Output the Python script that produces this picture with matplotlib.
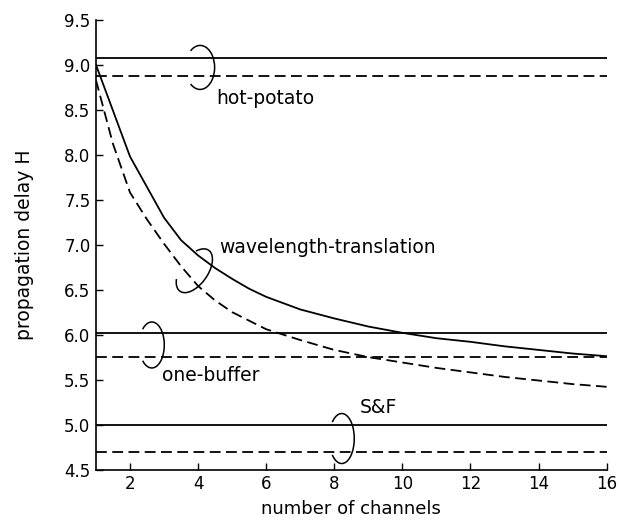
import numpy as np
import matplotlib
matplotlib.use("Agg")
import matplotlib.pyplot as plt
from matplotlib.patches import Arc
from matplotlib import transforms

# propagation delay H for each routing scheme (solid / dashed variants)
hot_potato_solid = 9.07
hot_potato_dashed = 8.87
one_buffer_solid = 6.02
one_buffer_dashed = 5.75
sf_solid = 5.00
sf_dashed = 4.69

# wavelength-translation curves versus number of channels
wl_solid_x = [1, 2, 3, 3.5, 4, 4.5, 5, 5.5, 6, 7, 8, 9, 10, 11, 12, 13, 14, 15, 16]
wl_solid_y = [9.00, 7.98, 7.30, 7.05, 6.88, 6.74, 6.62, 6.51, 6.42, 6.28, 6.18,
              6.09, 6.02, 5.96, 5.92, 5.87, 5.83, 5.79, 5.76]
wl_dashed_x = [1, 1.5, 2, 2.5, 3, 3.5, 4, 4.5, 5, 6, 7, 8, 9, 10, 11, 12, 13, 14, 15, 16]
wl_dashed_y = [8.83, 8.12, 7.58, 7.28, 7.01, 6.76, 6.54, 6.38, 6.25, 6.06, 5.94,
               5.83, 5.75, 5.69, 5.63, 5.58, 5.53, 5.49, 5.45, 5.42]

x_range = [1, 16]
x_ticks = [2, 4, 6, 8, 10, 12, 14, 16]
y_ticks = [4.5, 5.0, 5.5, 6.0, 6.5, 7.0, 7.5, 8.0, 8.5, 9.0, 9.5]

plt.rcParams['font.family'] = ['DejaVu Sans']

fig = plt.figure(figsize=(6.19, 5.2), dpi=100)
ax = fig.add_axes([0.155, 0.097, 0.825, 0.865])

lw = 1.3
dash = (6, 3)

# constant-delay schemes
for ys, yd in [(hot_potato_solid, hot_potato_dashed),
               (one_buffer_solid, one_buffer_dashed),
               (sf_solid, sf_dashed)]:
    ax.plot(x_range, [ys, ys], color='black', lw=lw)
    ax.plot(x_range, [yd, yd], color='black', lw=lw, dashes=dash)

# wavelength-translation
ax.plot(wl_solid_x, wl_solid_y, color='black', lw=lw)
ax.plot(wl_dashed_x, wl_dashed_y, color='black', lw=lw, dashes=dash)


def bracket(x, y, w_px, h_px, angle=0.0):
    """Draw a ')'-shaped brace centred at data point (x, y), sized in pixels."""
    trans = (transforms.Affine2D().scale(fig.dpi / 100.0)
             + transforms.ScaledTranslation(x, y, ax.transData))
    arc = Arc((0, 0), w_px, h_px, angle=angle, theta1=-120, theta2=120,
              color='black', lw=1.1, transform=trans)
    ax.add_patch(arc)


bracket(4.06, (hot_potato_solid + hot_potato_dashed) / 2, 29, 44)
bracket(3.89, 6.71, 27, 50, angle=-35)
bracket(2.64, (one_buffer_solid + one_buffer_dashed) / 2, 25, 46)
bracket(8.22, (sf_solid + sf_dashed) / 2, 25, 50)

fs = 13.5
ax.text(4.53, 8.63, 'hot-potato', fontsize=fs, ha='left', va='center')
ax.text(4.62, 6.97, 'wavelength-translation', fontsize=fs, ha='left', va='center')
ax.text(2.93, 5.545, 'one-buffer', fontsize=fs, ha='left', va='center')
ax.text(8.74, 5.195, 'S&F', fontsize=fs, ha='left', va='center')

ax.set_xlim(*x_range)
ax.set_ylim(4.5, 9.5)
ax.set_xticks(x_ticks)
ax.set_yticks(y_ticks)
ax.set_yticklabels([f'{v:.1f}' for v in y_ticks])
ax.tick_params(direction='in', length=5, width=1.0, labelsize=12, pad=4)

for side in ('top', 'right'):
    ax.spines[side].set_visible(False)
for side in ('left', 'bottom'):
    ax.spines[side].set_linewidth(1.2)

ax.set_xlabel('number of channels', fontsize=13, labelpad=5)
ax.set_ylabel('propagation delay H', fontsize=13.5, labelpad=22)

fig.savefig('out.png', dpi=100)
